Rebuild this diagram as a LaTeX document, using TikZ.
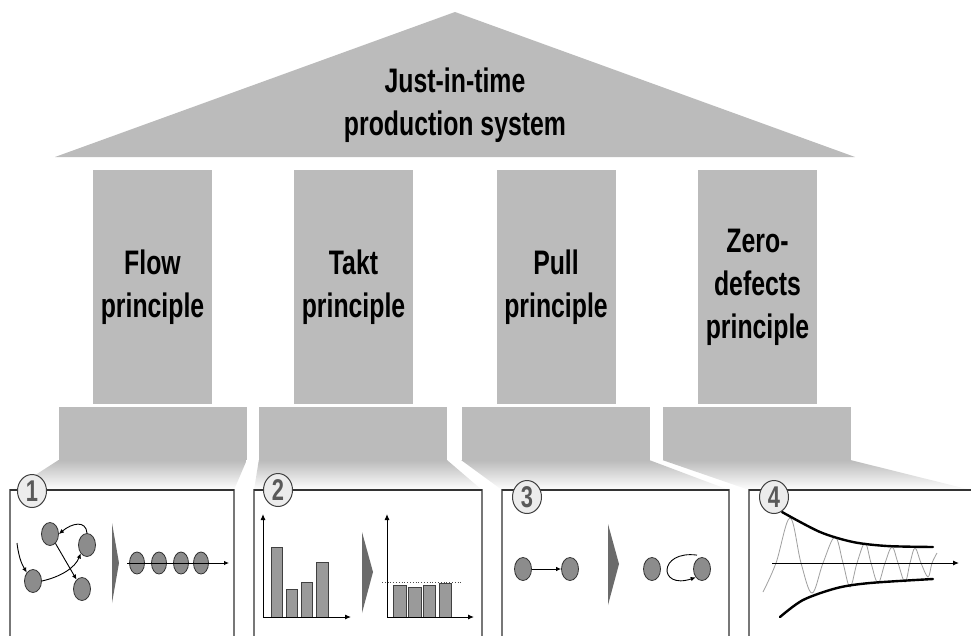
\documentclass[tikz,border=0pt]{standalone}
\usepackage{fontspec}
\setmainfont{Liberation Sans}[FakeStretch=0.73]
\usetikzlibrary{shapes.geometric,arrows.meta}
\definecolor{pillargray}{HTML}{BBBBBB}
\definecolor{ballgray}{HTML}{8C8C8C}
\definecolor{bargray}{HTML}{9A9A9A}
\definecolor{chevrongray}{HTML}{6B6B6B}
\definecolor{framegray}{HTML}{777777}
\tikzset{
    % --- styles ---
    pillar/.style={fill=pillargray, minimum width=119pt, minimum height=234pt, inner sep=0pt,
                   align=center, font=\fontsize{34}{43}\selectfont\bfseries},
    roof_text/.style={align=center, font=\fontsize{34}{43}\selectfont\bfseries},
    base_block/.style={fill=pillargray, minimum width=188pt, minimum height=53pt, inner sep=0pt},
    fade/.style={top color=pillargray, bottom color=white},
    panel_frame/.style={draw=framegray, line width=1.2pt, fill=white},
    panel_top/.style={draw=black!80, line width=1.6pt},
    number_badge/.style={ellipse, draw=black!75, fill=gray!15, line width=1pt, minimum width=29pt,
                         minimum height=33pt, inner sep=0pt, text=black!65,
                         font=\fontsize{30}{30}\selectfont\bfseries},
    % Estilo para bolas
    ball/.style={ellipse, draw=black!80, fill=ballgray, line width=0.8pt,
                 minimum width=17pt, minimum height=23pt, inner sep=0pt},
    small_ball/.style={ball, minimum width=15pt, minimum height=22pt},
    bar/.style={draw=black!75, fill=bargray, line width=0.8pt},
    chevron/.style={fill=chevrongray},
    axis_line/.style={line width=1pt, -{Latex[length=6pt,width=5pt]}},
    flow_arrow/.style={line width=0.9pt, -{Latex[length=5pt,width=4.5pt]}},
    envelope/.style={line width=2.4pt, line cap=round},
    wave/.style={draw=gray!75, line width=0.8pt}
}

\begin{document}
\begin{tikzpicture}[x=1pt,y=-1pt]
    \useasboundingbox (0,0) rectangle (971,635);

    % roof
    \fill[pillargray] (55,157) -- (455,12) -- (855,157) -- cycle;
    \node[roof_text] (jit) at (455,105) {Just-in-time\\production system};

    % pillars
    \node[pillar] (flow) at (152.5,287) {Flow\\principle};
    \node[pillar] (takt) at (353.5,287) {Takt\\principle};
    \node[pillar] (pull) at (556,287) {Pull\\principle};
    \node[pillar] (zero) at (757.5,287) {Zero-\\defects\\principle};

    % bases
    \node[base_block] (base1) at (152.5,433.5) {};
    \node[base_block] (base2) at (353,433.5) {};
    \node[base_block] (base3) at (555.5,433.5) {};
    \node[base_block] (base4) at (757,433.5) {};

    \shade[fade] (base1.south west) -- (base1.south east) -- (234,490) -- (12,490) -- cycle;
    \shade[fade] (base2.south west) -- (base2.south east) -- (482,490) -- (254,490) -- cycle;
    \shade[fade] (base3.south west) -- (base3.south east) -- (729,490) -- (502,490) -- cycle;
    \shade[fade] (base4.south west) -- (base4.south east) -- (971,490) -- (749,490) -- cycle;

    % panels
    \draw[panel_frame] (10,490) rectangle (234,645);
    \draw[panel_frame] (254,490) rectangle (482,645);
    \draw[panel_frame] (502,490) rectangle (729,645);
    \draw[panel_frame] (749,490) rectangle (980,645);
    \draw[panel_top] (10,490) -- (234,490);
    \draw[panel_top] (254,490) -- (482,490);
    \draw[panel_top] (502,490) -- (729,490);
    \draw[panel_top] (749,490) -- (971,490);

    % 1 flow
    \node[ball] (a) at (50,534) {};
    \node[ball] (b) at (87,545) {};
    \node[ball] (c) at (33,581) {};
    \node[ball] (d) at (82,589) {};
    \coordinate (feed) at (17,543);
    \draw[flow_arrow] (feed) .. controls (19,560) and (23,566) .. (c.north west);
    \draw[flow_arrow] (b.north) .. controls (86,520) and (72,523) .. (a.east);
    \draw[flow_arrow] (c.east) .. controls (60,577) and (75,568) .. (b.south west);
    \draw[flow_arrow] (a) -- (d);
    \fill[chevron] (112,523) -- (119,563) -- (112,603) -- cycle;
    \node[small_ball] (r1) at (137,563) {};
    \node[small_ball] (r2) at (159,563) {};
    \node[small_ball] (r3) at (181,563) {};
    \node[small_ball] (r4) at (201,563) {};
    \coordinate (row_in) at (127,563);
    \coordinate (row_out) at (229,563);
    \draw[flow_arrow] (row_in) -- (row_out);

    % 2 takt
    \coordinate (o1) at (263,617);
    \coordinate (y1) at (263,514);
    \coordinate (x1) at (351,617);
    \draw[bar] (271,617) rectangle (282,547);
    \draw[bar] (286,617) rectangle (297,589);
    \draw[bar] (301,617) rectangle (312,582);
    \draw[bar] (316,617) rectangle (328,562);
    \draw[axis_line] (o1) -- (y1);
    \draw[axis_line] (o1) -- (x1);
    \fill[chevron] (362,532) -- (373,572) -- (362,613) -- cycle;
    \coordinate (o2) at (387,617);
    \coordinate (y2) at (387,514);
    \coordinate (x2) at (474,617);
    \draw[bar] (393,617) rectangle (406,585);
    \draw[bar] (408,617) rectangle (421,587);
    \draw[bar] (423,617) rectangle (435,585);
    \draw[bar] (439,617) rectangle (451,583);
    \draw[dotted, line width=0.8pt, black!70] (382,582) -- (463,582);
    \draw[axis_line] (o2) -- (y2);
    \draw[axis_line] (o2) -- (x2);

    % 3 pull
    \node[ball] (p1) at (523,569) {};
    \node[ball] (p2) at (570,569) {};
    \draw[flow_arrow] (p1) -- (p2);
    \fill[chevron] (608,524) -- (619,564) -- (608,605) -- cycle;
    \node[ball] (q1) at (652,569) {};
    \node[ball] (q2) at (702,569) {};
    \draw[flow_arrow] ([xshift=-5pt,yshift=2pt]q2.north) .. controls (658,550) and (658,590) .. (q2.south west);

    % 4 zero defects
    \coordinate (t0) at (772,563);
    \coordinate (t1) at (959,563);
    \draw[wave] plot[smooth, tension=0.6] coordinates {(763,592) (776,563) (790,518) (801,563)
        (812,593) (823,563) (835,537) (843,563) (850,587) (857,563) (865,543) (871,563)
        (878,583) (885,563) (892,547) (898,563) (905,582) (910,563) (915,548) (921,563)
        (928,577) (932,563) (937,553)};
    \draw[axis_line] (t0) -- (t1);
    \draw[envelope] plot[smooth] coordinates {(782,512) (820,532) (853,542) (887,546) (933,547)};
    \draw[envelope] plot[smooth] coordinates {(780,617) (803,600) (837,588) (870,583) (933,579)};

    % numbers
    \node[number_badge] (n1) at (32,491) {1};
    \node[number_badge] (n2) at (278,490) {2};
    \node[number_badge] (n3) at (527,497) {3};
    \node[number_badge] (n4) at (774,497) {4};
\end{tikzpicture}
\end{document}
